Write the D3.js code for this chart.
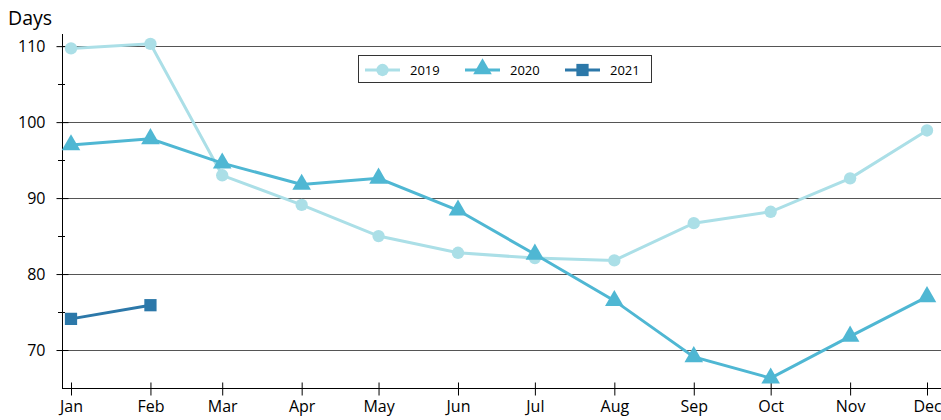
<!DOCTYPE html>
<html><head><meta charset="utf-8">
<script src="https://cdn.jsdelivr.net/npm/d3@7"></script>
<style>body{margin:0;background:#fff}svg{display:block}</style>
</head><body>
<svg id="c" width="941" height="420"></svg>
<script>
const months = ["Jan","Feb","Mar","Apr","May","Jun","Jul","Aug","Sep","Oct","Nov","Dec"];
const v2019 = [109.7,110.3,93.0,89.1,85.0,82.8,82.1,81.8,86.7,88.2,92.6,98.9];
const v2020 = [97.0,97.8,94.6,91.8,92.6,88.4,82.6,76.5,69.1,66.3,71.8,77.0];
const v2021 = [74.1,75.9];
const seriesNames = ["2019","2020","2021"];
const colors = ["#abdfe7","#4fb7d3","#2c78a9"];
const yMajor = [70,80,90,100,110];
const yMinor = [75,85,95,105];

const FONT = "'Open Sans', Lato, sans-serif";
const svg = d3.select("#c");
const dates = months.map((m,i)=>new Date(2019,i,1));
const x = d3.scaleTime().domain([dates[0],dates[11]]).range([71,927]);
const xm = (i)=>x(dates[i]);
const y = d3.scaleLinear().domain([65,111.6]).range([388,34]);
const axL = 62;

// gridlines
svg.append("g").selectAll("line").data(yMajor).join("line")
  .attr("x1",axL).attr("x2",941).attr("y1",d=>Math.round(y(d))+0.5).attr("y2",d=>Math.round(y(d))+0.5)
  .attr("stroke","#555").attr("stroke-width",1);

// y axis
const yAx = svg.append("g").attr("transform",`translate(${axL+0.5},0)`)
  .call(d3.axisLeft(y).tickValues(yMajor).tickSize(6).tickPadding(4).tickFormat(d3.format("d")));
yAx.select(".domain").remove();
yAx.selectAll(".tick line").attr("x1",-6).attr("x2",6).attr("stroke","#000");
yAx.selectAll("text").attr("font-family",FONT).attr("font-size",16).attr("fill","#000").attr("x",-17);
svg.append("g").selectAll("line").data(yMinor).join("line")
  .attr("x1",axL-4).attr("x2",axL+3).attr("y1",d=>Math.round(y(d))+0.5).attr("y2",d=>Math.round(y(d))+0.5)
  .attr("stroke","#000");
svg.append("line").attr("x1",axL+0.5).attr("x2",axL+0.5).attr("y1",34).attr("y2",388).attr("stroke","#000");

// x axis
const xAx = svg.append("g").attr("transform",`translate(0,388.5)`)
  .call(d3.axisBottom(x).tickValues(dates).tickFormat((d,i)=>months[i]).tickSize(7).tickPadding(5));
xAx.select(".domain").remove();
xAx.selectAll(".tick line").attr("y1",-6).attr("y2",7).attr("stroke","#000");
xAx.selectAll("text").attr("font-family",FONT).attr("font-size",16).attr("fill","#000");
svg.append("line").attr("x1",axL).attr("x2",941).attr("y1",388.5).attr("y2",388.5).attr("stroke","#000");

svg.append("text").attr("x",8).attr("y",25).text("Days")
  .attr("font-family",FONT).attr("font-size",19.5).attr("fill","#000");

const line = d3.line().x((d,i)=>xm(i)).y(d=>y(d));
const data = [v2019,v2020,v2021];
const sym = [d3.symbolCircle,d3.symbolTriangle,d3.symbolSquare];
const symSize = [120,150,150];

data.forEach((vals,k)=>{
  const g = svg.append("g");
  g.append("path").attr("d",line(vals)).attr("fill","none").attr("stroke",colors[k]).attr("stroke-width",3);
  g.selectAll("path.m").data(vals).join("path").attr("class","m")
    .attr("transform",(d,i)=>`translate(${xm(i)},${y(d)})`)
    .attr("d",d3.symbol().type(sym[k]).size(symSize[k])).attr("fill",colors[k]);
});

// legend
const lg = svg.append("g");
lg.append("rect").attr("x",358.5).attr("y",55.5).attr("width",293).attr("height",27)
  .attr("fill","#fff").attr("stroke","#333").attr("stroke-width",1);
const lx = [365,465,565];
seriesNames.forEach((n,k)=>{
  lg.append("line").attr("x1",lx[k]).attr("x2",lx[k]+35).attr("y1",70).attr("y2",70)
    .attr("stroke",colors[k]).attr("stroke-width",3);
  lg.append("path").attr("transform",`translate(${lx[k]+17.5},${k==1?69:70})`)
    .attr("d",d3.symbol().type(sym[k]).size(symSize[k])).attr("fill",colors[k]);
  lg.append("text").attr("x",lx[k]+45).attr("y",75).text(n)
    .attr("font-family",FONT).attr("font-size",13).attr("fill","#000");
});
</script>
</body></html>
